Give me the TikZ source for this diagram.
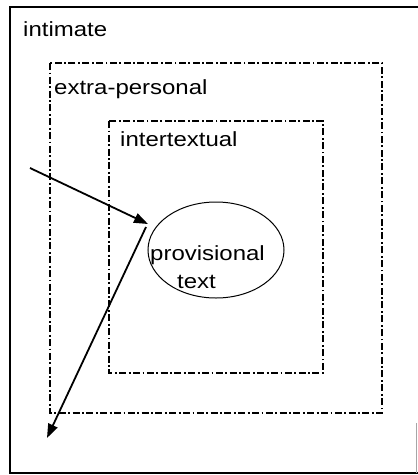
\documentclass[tikz,border=0pt]{standalone}
\usepackage{fontspec}
\setmainfont[FakeStretch=1.17]{Liberation Sans}
\usetikzlibrary{arrows.meta,shapes.geometric}
\tikzset{
  zone/.style={line width=1.8pt, dash pattern=on 7pt off 2.5pt on 1.8pt off 2.5pt},
  frame/.style={line width=2.8pt},
  lbl/.style={anchor=base west, inner sep=0pt, font=\fontsize{20.5}{24}\selectfont},
  pointer/.style={line width=1.8pt, -{Triangle[length=14pt,width=10pt]}},
}
\begin{document}
\begin{tikzpicture}[x=1pt,y=-1pt]
\useasboundingbox (0,0) rectangle (418,475);
% outer frame
\draw[frame] (418,7) -- (10,7) -- (10,473) -- (418,473);
\draw[line width=1pt, black!35] (416,423) -- (416,473);
% nested zones
\draw[zone] (50,63) rectangle (382,413);
\draw[zone] (109,121) rectangle (323,373);
% central ellipse
\node[ellipse, draw, line width=1pt, minimum width=136pt, minimum height=96pt, inner sep=0pt] (prov) at (216,250) {};
% labels
\node[lbl] (lintimate) at (23,36) {intimate};
\node[lbl] (lextra) at (54,94) {extra-personal};
\node[lbl] (linter) at (120,146) {intertextual};
\node[lbl] (lprov) at (150,260) {provisional};
\node[lbl] (ltext) at (177,288) {text};
% arrows
\coordinate (in) at (30,168);
\coordinate (hit) at (148,224);
\coordinate (turn) at (146,227);
\coordinate (out) at (47,438);
\draw[pointer] (in) -- (hit);
\draw[pointer] (turn) -- (out);
\end{tikzpicture}
\end{document}
